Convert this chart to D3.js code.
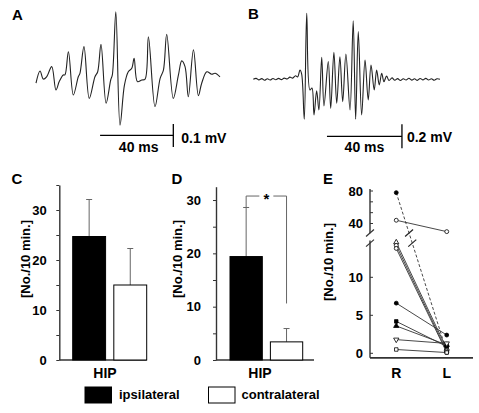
<!DOCTYPE html>
<html><head><meta charset="utf-8">
<script src="https://cdn.jsdelivr.net/npm/d3@7"></script>
<style>
html,body{margin:0;padding:0;background:#fff;}
svg{display:block;font-family:"Liberation Sans",Arial,Helvetica,sans-serif;font-weight:bold;}
</style></head><body>
<svg id="fig" width="479" height="413"></svg>
<script>
// ---------- Panel A trace (time in ms, amplitude in µV) ----------
const traceATime = [0,2.2,4.0,5.8,8.6,10.9,12.7,14.9,15.8,17.7,20.4,23.1,24.0,26.2,29.1,32.2,33.7,35.5,38.3,40.8,41.7,43.6,45.9,48.3,50.4,52.3,53.6,55.4,57.8,59.6,61.4,65.0,67.8,69.6,71.4,75.0,77.8,79.6,81.4,83.2,86.0,88.7,90.5,93.3,96.0,97.8,100.5];
const traceAVolt = [-14,39,4,14,58,-43,-7,22,22,123,-65,14,29,145,-80,14,36,155,-101,0,22,297,-196,-22,36,51,94,-7,0,4,188,-116,7,43,199,-80,22,83,58,-73,131,-68,-14,36,25,29,14];
// ---------- Panel B trace ----------
const traceBTime = [0,1.5,3,4.5,6,7.5,9,10.5,12,13.5,15,16.5,18,19.5,21,22.5,23.7,24.9,25.8,27.2,28.5,30.2,31.3,32.4,33.8,35.0,36.5,37.7,40.0,41.3,43.0,44.5,46.2,47.7,49.4,51.6,53.3,54.6,56.0,57.8,59.6,61.3,62.8,64.5,65.8,67.2,68.5,69.7,71.1,72.4,74,75.5,77,78.5,80,81.5,83,84.5,86,87.5,89,90.5,92,93.5,95,96.5,98,99.6];
const traceBVolt = [0,8,-5,6,-8,5,-6,7,-4,8,-3,10,2,18,10,30,20,77,44,-333,550,-89,-72,-297,-95,-256,183,-222,147,-242,225,-200,188,-187,211,-256,488,-333,397,-297,161,-172,119,-89,77,-47,50,-20,27,-10,12,-8,6,-10,5,-6,9,-7,4,-9,7,-5,8,-6,5,-8,4,0];
// scale bars
const scaleBarMs = 40;
const scaleBarA_uV = 100, scaleBarB_uV = 200;
const scaleBarLabelsA = ["40 ms", "0.1 mV"];
const scaleBarLabelsB = ["40 ms", "0.2 mV"];

// ---------- Panels C & D (bars) ----------
const sides = ["ipsilateral", "contralateral"];
const groupLabel = "HIP";
const barsC = [24.7, 15.0];
const errC = [7.4, 7.3];
const barsD = [19.4, 3.4];
const errD = [9.2, 2.5];
const ticksC = [0,5,10,15,20,25,30,35];
const ticksD = [0,5,10,15,20,25,30];
const yLabel = "[No./10 min.]";

// ---------- Panel E (paired R vs L) ----------
const sidesE = ["R", "L"];
const valuesR = [78, 44, 14.6, 14.2, 13.8, 6.6, 4.2, 3.6, 1.8, 0.5];
const valuesL = [0.2, 30, 0.6, 0.3, 0.1, 2.4, 0.9, 1.1, 1.3, 0.1];
const markerShape = ["circle","circle","triangle","circle","circle","circle","square","triangle","triangleDown","square"];
const markerFilled = [true,false,false,false,false,true,true,true,false,false];
const lineDashed = [true,false,false,false,false,false,false,false,false,false];
const ticksELow = [0,5,10];
const ticksEHigh = [40,80];
const minorTicksEHigh = [40, 53.33, 66.67, 80];

const svg = d3.select("#fig");
const INK = "#222", AX = "#333", ERR = "#666";

function panelLetter(txt, x, y) {
  svg.append("text").attr("x", x).attr("y", y).attr("font-size", 15).attr("fill", "#000").text(txt);
}

// ================= Panel A =================
panelLetter("A", 12, 20);
const xA = d3.scaleLinear().domain([0, 100.5]).range([36, 220]);
const yA = d3.scaleLinear().domain([-200, 300]).range([126, 11]);
const lineA = d3.line().x(d => xA(d[0])).y(d => yA(d[1])).curve(d3.curveCatmullRom.alpha(0.5));
svg.append("path").datum(d3.zip(traceATime, traceAVolt)).attr("d", lineA)
  .attr("fill", "none").attr("stroke", INK).attr("stroke-width", 1.1).attr("stroke-linejoin", "round");
// scale bar A
{
  const t0 = 35, t1 = t0 + scaleBarMs, vMid = -241;
  const g = svg.append("g").attr("stroke", "#000").attr("stroke-width", 1.3);
  g.append("line").attr("x1", xA(t0)).attr("x2", xA(t1)).attr("y1", yA(vMid)).attr("y2", yA(vMid));
  g.append("line").attr("x1", xA(t1)).attr("x2", xA(t1)).attr("y1", yA(vMid - scaleBarA_uV/2)).attr("y2", yA(vMid + scaleBarA_uV/2));
  svg.append("text").attr("x", (xA(t0)+xA(t1))/2 + 2).attr("y", 151.5).attr("text-anchor","middle").attr("font-size", 14).text(scaleBarLabelsA[0]);
  svg.append("text").attr("x", xA(t1) + 8).attr("y", 142.5).attr("font-size", 14).text(scaleBarLabelsA[1]);
}

// ================= Panel B =================
panelLetter("B", 248, 18.5);
const xB = d3.scaleLinear().domain([0, 99.6]).range([253.3, 440]);
const yB = d3.scaleLinear().domain([-400, 600]).range([127.3, 7.3]);
const lineB = d3.line().x(d => xB(d[0])).y(d => yB(d[1])).curve(d3.curveCatmullRom.alpha(0.5));
svg.append("path").datum(d3.zip(traceBTime, traceBVolt)).attr("d", lineB)
  .attr("fill", "none").attr("stroke", INK).attr("stroke-width", 1.1).attr("stroke-linejoin", "round");
{
  const t0 = 39.3, t1 = t0 + scaleBarMs, vMid = -475;
  const g = svg.append("g").attr("stroke", "#000").attr("stroke-width", 1.3);
  g.append("line").attr("x1", xB(t0)).attr("x2", xB(t1)).attr("y1", yB(vMid)).attr("y2", yB(vMid));
  g.append("line").attr("x1", xB(t1)).attr("x2", xB(t1)).attr("y1", yB(vMid - scaleBarB_uV/2)).attr("y2", yB(vMid + scaleBarB_uV/2));
  svg.append("text").attr("x", (xB(t0)+xB(t1))/2).attr("y", 151.5).attr("text-anchor","middle").attr("font-size", 14).text(scaleBarLabelsB[0]);
  svg.append("text").attr("x", xB(t1) + 5).attr("y", 141.5).attr("font-size", 14).text(scaleBarLabelsB[1]);
}

// ================= Bar panels =================
function barPanel(opts) {
  const {letter, lx, ly, axisX, axisRight, yMax, yTop, ticks, vals, errs, bandRange, labelPad, ylabX, hipX} = opts;
  panelLetter(letter, lx, ly);
  const y = d3.scaleLinear().domain([0, yMax]).range([360, yTop]);
  const x = d3.scaleBand().domain(sides).range(bandRange).paddingInner(0.2).paddingOuter(0);
  const ax = d3.axisLeft(y).tickValues(ticks).tickSize(3).tickSizeOuter(0).tickPadding(labelPad)
    .tickFormat(d => d % 10 === 0 ? d : "");
  const g = svg.append("g").attr("transform", `translate(${axisX},0)`).call(ax);
  g.select(".domain").attr("stroke", AX).attr("stroke-width", 1.4);
  g.selectAll(".tick line").attr("stroke", AX).attr("stroke-width", 1);
  g.selectAll(".tick text").attr("font-size", 13).attr("font-family", null).attr("fill", "#000").attr("font-weight", "bold");
  // x-axis baseline
  svg.append("line").attr("x1", axisX).attr("x2", axisRight).attr("y1", y(0)).attr("y2", y(0))
    .attr("stroke", AX).attr("stroke-width", 1.6);
  // error bars (upper only)
  const eg = svg.append("g").attr("stroke", ERR).attr("stroke-width", 1);
  sides.forEach((s, i) => {
    const cx = x(s) + x.bandwidth()/2;
    eg.append("line").attr("x1", cx).attr("x2", cx).attr("y1", y(vals[i])).attr("y2", y(vals[i] + errs[i]));
    eg.append("line").attr("x1", cx - 3).attr("x2", cx + 3).attr("y1", y(vals[i] + errs[i])).attr("y2", y(vals[i] + errs[i]));
  });
  // bars
  svg.append("g").selectAll("rect").data(sides).join("rect")
    .attr("x", d => x(d)).attr("width", x.bandwidth())
    .attr("y", (d, i) => y(vals[i])).attr("height", (d, i) => y(0) - y(vals[i]))
    .attr("fill", (d, i) => i === 0 ? "#000" : "#fff").attr("stroke", "#000").attr("stroke-width", 1);
  // group label
  svg.append("text").attr("x", hipX).attr("y", 377.5).attr("text-anchor", "middle").attr("font-size", 14).text(groupLabel);
  // y label
  svg.append("text").attr("transform", `translate(${ylabX},${259}) rotate(-90)`)
    .attr("text-anchor", "middle").attr("dominant-baseline", "central").attr("font-size", 13).text(yLabel);
  return {x, y};
}

const C = barPanel({letter:"C", lx:11.5, ly:183.5, axisX:59.3, axisRight:146.7, yMax:35, yTop:185,
  ticks:ticksC, vals:barsC, errs:errC, bandRange:[72.7,146.7], labelPad:9.5, ylabX:25, hipX:105});
const D = barPanel({letter:"D", lx:171.5, ly:184, axisX:216, axisRight:314, yMax:32.5, yTop:186.7,
  ticks:ticksD, vals:barsD, errs:errD, bandRange:[230,302.7], labelPad:12, ylabX:177, hipX:260});

// significance bracket in D
{
  const bracketLevel = 30.75, rightBottom = 10.6;
  const xl = D.x(sides[0]) + D.x.bandwidth()/2, xr = D.x(sides[1]) + D.x.bandwidth()/2;
  const yb = D.y(bracketLevel);
  const g = svg.append("g").attr("stroke", ERR).attr("stroke-width", 1).attr("fill", "none");
  const xm = (xl + xr) / 2;
  g.append("path").attr("d", `M${xl},${D.y(barsD[0]+errD[0])}V${yb}H${xm-7}`);
  g.append("path").attr("d", `M${xm+7},${yb}H${xr}V${D.y(rightBottom)}`);
  svg.append("text").attr("x", xm).attr("y", yb + 8).attr("text-anchor", "middle").attr("font-size", 15).text("*");
}

// Legend
{
  const lg = svg.append("g");
  const lx = [85, 208.5], tx = [119, 241.5];
  sides.forEach((s, i) => {
    lg.append("rect").attr("x", lx[i]).attr("y", 387).attr("width", 26.5).attr("height", 16)
      .attr("fill", i === 0 ? "#000" : "#fff").attr("stroke", "#000").attr("stroke-width", 1);
    lg.append("text").attr("x", tx[i]).attr("y", 398.5).attr("font-size", 13).text(s);
  });
}

// ================= Panel E =================
panelLetter("E", 323, 184);
{
  const xE = d3.scalePoint().domain(sidesE).range([370, 473]).padding(0.52);
  const yLow = d3.scaleLinear().domain([0, 10]).range([353.3, 277.3]);
  const yHigh = d3.scaleLinear().domain([40, 80]).range([223.5, 191]);
  const yOf = v => v >= 25 ? yHigh(v) : yLow(v);
  const axX = 370;
  const g = svg.append("g").attr("stroke", AX).attr("stroke-width", 1.4);
  // axis segments
  g.append("line").attr("x1", axX).attr("x2", axX).attr("y1", yLow(-0.6)).attr("y2", yLow(14.85));
  g.append("line").attr("x1", axX).attr("x2", axX).attr("y1", yHigh(28)).attr("y2", yHigh(82.5));
  // break marks
  const brk = [yHigh(28.3), yLow(14.5)];
  brk.forEach(by => g.append("line").attr("x1", axX - 4).attr("x2", axX + 4).attr("y1", by + 3.5).attr("y2", by - 3.5).attr("stroke-width", 1.2));
  // x axis
  svg.append("line").attr("x1", axX).attr("x2", 473).attr("y1", yLow(-0.6)).attr("y2", yLow(-0.6))
    .attr("stroke", AX).attr("stroke-width", 1.8);
  // ticks (inward)
  ticksELow.forEach(t => g.append("line").attr("x1", axX).attr("x2", axX + 3).attr("y1", yLow(t)).attr("y2", yLow(t)).attr("stroke-width", 1));
  minorTicksEHigh.forEach(t => g.append("line").attr("x1", axX).attr("x2", axX + 3).attr("y1", yHigh(t)).attr("y2", yHigh(t)).attr("stroke-width", 1));
  ticksELow.forEach(t => svg.append("text").attr("x", axX - 7).attr("y", yLow(t)).attr("dominant-baseline", "central")
    .attr("text-anchor", "end").attr("font-size", 13).text(t));
  ticksEHigh.forEach(t => svg.append("text").attr("x", axX - 7).attr("y", yHigh(t)).attr("dominant-baseline", "central")
    .attr("text-anchor", "end").attr("font-size", 13).text(t));
  // x labels
  sidesE.forEach(s => svg.append("text").attr("x", xE(s)).attr("y", 378).attr("text-anchor", "middle").attr("font-size", 14).text(s));
  // y label
  svg.append("text").attr("transform", `translate(328,262) rotate(-90)`)
    .attr("text-anchor", "middle").attr("dominant-baseline", "central").attr("font-size", 13).text(yLabel);
  // lines
  const lg = svg.append("g");
  valuesR.forEach((r, i) => {
    lg.append("line").attr("x1", xE("R")).attr("y1", yOf(r)).attr("x2", xE("L")).attr("y2", yOf(valuesL[i]))
      .attr("stroke", "#333").attr("stroke-width", 0.9).attr("stroke-dasharray", lineDashed[i] ? "3,2" : null);
  });
  // break marks on lines crossing the axis break
  valuesR.forEach((r, i) => {
    if ((r >= 25) !== (valuesL[i] >= 25)) {
      const x1 = xE("R"), y1 = yOf(r), x2 = xE("L"), y2 = yOf(valuesL[i]);
      brk.forEach(by => {
        const bx = x1 + (by - y1) / (y2 - y1) * (x2 - x1);
        lg.append("line").attr("x1", bx - 4).attr("x2", bx + 4).attr("y1", by + 3.5).attr("y2", by - 3.5)
          .attr("stroke", "#222").attr("stroke-width", 1.2);
      });
    }
  });
  // markers
  const symType = {circle: d3.symbolCircle, square: d3.symbolSquare, triangle: d3.symbolTriangle, triangleDown: d3.symbolTriangle};
  const mg = svg.append("g");
  ["R", "L"].forEach(side => {
    const vals = side === "R" ? valuesR : valuesL;
    vals.forEach((v, i) => {
      const rot = markerShape[i] === "triangleDown" ? 180 : 0;
      mg.append("path").attr("d", d3.symbol().type(symType[markerShape[i]]).size(12)())
        .attr("transform", `translate(${xE(side)},${yOf(v)}) rotate(${rot})`)
        .attr("fill", markerFilled[i] ? "#000" : "#fff").attr("stroke", "#000").attr("stroke-width", 0.8);
    });
  });
}
</script>
</body></html>
